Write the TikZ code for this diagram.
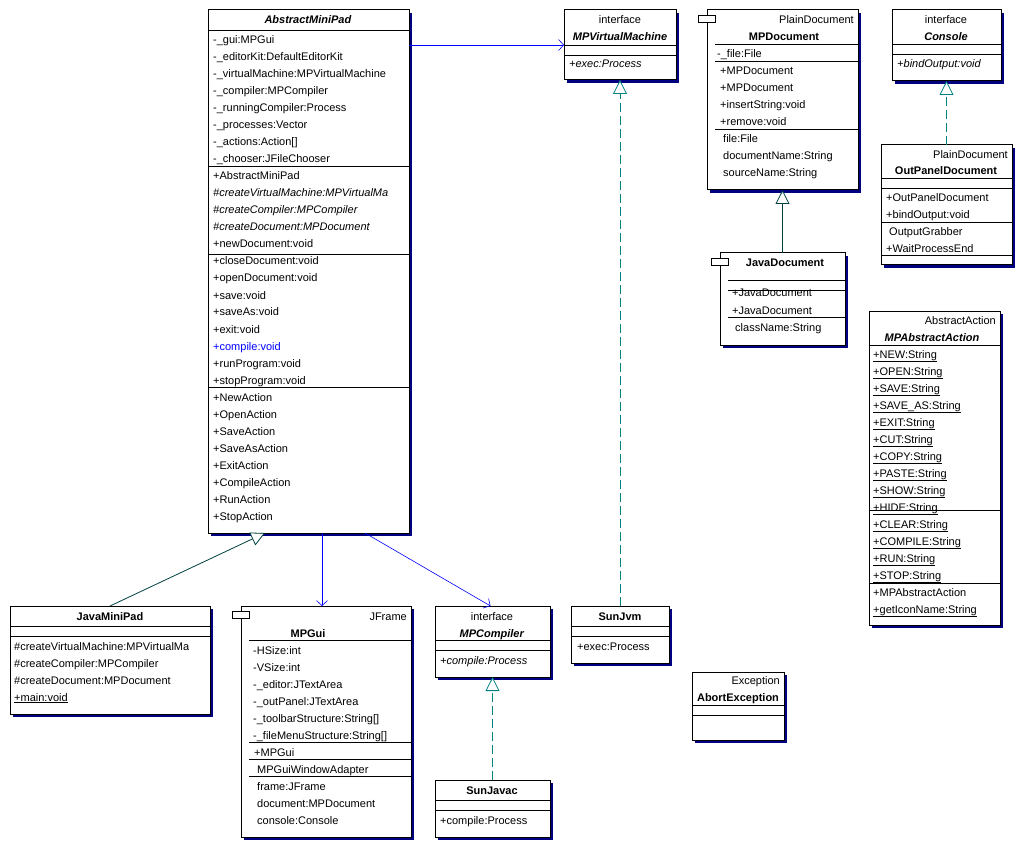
\documentclass[tikz,border=0pt]{standalone}
\usepackage{fontspec}
\setmainfont{Liberation Sans}
\usetikzlibrary{fit,arrows.meta}
\definecolor{shd}{HTML}{000080}
\definecolor{teal2}{HTML}{008080}
\definecolor{gen}{HTML}{004040}
\tikzset{
  txt/.style={font=\fontsize{11}{13}\selectfont,inner sep=0pt,anchor=base west},
  ctr/.style={font=\fontsize{11}{13}\selectfont,inner sep=0pt,anchor=base},
  rgt/.style={font=\fontsize{11}{13}\selectfont,inner sep=0pt,anchor=base east},
  assoc/.style={blue,line width=0.6pt,-{Straight Barb[length=5pt,width=11pt]}},
  real/.style={teal2,line width=0.8pt,dash pattern=on 9pt off 4pt,-{Triangle[open,fill=white,length=14pt,width=14pt]}},
  inh/.style={gen,line width=0.8pt,-{Triangle[open,fill=white,length=14pt,width=14pt]}},
  sep/.style={line width=0.8pt}
}
\newcommand\ubox[5]{%
  \fill[shd] (#2+3,#3+3) rectangle (#4+3,#5+3);
  \node[inner sep=0pt,outer sep=0pt,fit={(#2,#3) (#4,#5)},draw,line width=1pt,fill=white] (#1) {};}
\newcommand\tabicon[2]{\draw[line width=0.8pt,fill=white] (#1,#2) rectangle (#1+17,#2+7);}
\newcommand\hl[3]{\draw[sep] (#1,#3) -- (#2,#3);}
\newcommand\rw[3]{\node[txt] at (#1,#2+4) {#3};}
\newcommand\cw[3]{\node[ctr] at (#1,#2+4) {#3};}
\begin{document}
\begin{tikzpicture}[x=1pt,y=-1pt]
\useasboundingbox (0,0) rectangle (1025,850);

% AbstractMiniPad
\ubox{amp}{208}{10}{409}{533}
\cw{308}{20}{\textbf{\textit{AbstractMiniPad}}}
\hl{208}{409}{30}
\rw{213}{40}{-\_gui:MPGui}
\rw{213}{57}{-\_editorKit:DefaultEditorKit}
\rw{213}{74}{-\_virtualMachine:MPVirtualMachine}
\rw{213}{91}{-\_compiler:MPCompiler}
\rw{213}{108}{-\_runningCompiler:Process}
\rw{213}{125}{-\_processes:Vector}
\rw{213}{142}{-\_actions:Action[]}
\rw{213}{159}{-\_chooser:JFileChooser}
\hl{208}{409}{166}
\rw{213}{176}{+AbstractMiniPad}
\rw{213}{193}{\textit{\#createVirtualMachine:MPVirtualMa}}
\rw{213}{210}{\textit{\#createCompiler:MPCompiler}}
\rw{213}{227}{\textit{\#createDocument:MPDocument}}
\rw{213}{244}{+newDocument:void}
\hl{208}{409}{254}
\rw{213}{261}{+closeDocument:void}
\rw{213}{278}{+openDocument:void}
\rw{213}{295}{+save:void}
\rw{213}{312}{+saveAs:void}
\rw{213}{329}{+exit:void}
\rw{213}{346}{\color{blue}+compile:void}
\rw{213}{363}{+runProgram:void}
\rw{213}{380}{+stopProgram:void}
\hl{208}{409}{387}
\rw{213}{397}{+NewAction}
\rw{213}{414}{+OpenAction}
\rw{213}{431}{+SaveAction}
\rw{213}{448}{+SaveAsAction}
\rw{213}{465}{+ExitAction}
\rw{213}{482}{+CompileAction}
\rw{213}{499}{+RunAction}
\rw{213}{516}{+StopAction}

% MPVirtualMachine
\ubox{mvm}{564}{10}{676}{80}
\cw{620}{20}{interface}
\cw{620}{37}{\textbf{\textit{MPVirtualMachine}}}
\hl{564}{676}{45}
\hl{564}{676}{55}
\rw{569}{64}{\textit{+exec:Process}}

% MPDocument
\ubox{mpd}{707}{10}{858}{190}
\tabicon{698}{15}
\node[rgt] at (854,24) {PlainDocument};
\cw{784}{37}{\textbf{MPDocument}}
\hl{715}{858}{44}
\rw{717}{54}{-\_file:File}
\hl{715}{858}{61}
\rw{720}{71}{+MPDocument}
\rw{720}{88}{+MPDocument}
\rw{720}{105}{+insertString:void}
\rw{720}{122}{+remove:void}
\hl{715}{858}{129}
\rw{723}{139}{file:File}
\rw{723}{156}{documentName:String}
\rw{723}{173}{sourceName:String}

% JavaDocument
\ubox{jdoc}{720}{253}{845}{345}
\tabicon{711}{258}
\cw{785}{263}{\textbf{JavaDocument}}
\hl{728}{845}{280}
\hl{728}{845}{290}
\rw{732}{293}{+JavaDocument}
\rw{732}{310}{+JavaDocument}
\hl{728}{845}{317}
\rw{735}{327}{className:String}

% Console
\ubox{con}{892}{10}{1001}{81}
\cw{946}{20}{interface}
\cw{946}{37}{\textbf{\textit{Console}}}
\hl{892}{1001}{44}
\hl{892}{1001}{54}
\rw{897}{64}{\textit{+bindOutput:void}}

% OutPanelDocument
\ubox{opd}{881}{145}{1012}{265}
\node[rgt] at (1008,159) {PlainDocument};
\cw{946}{171}{\textbf{OutPanelDocument}}
\hl{881}{1012}{178}
\hl{881}{1012}{188}
\rw{886}{198}{+OutPanelDocument}
\rw{886}{215}{+bindOutput:void}
\hl{881}{1012}{222}
\rw{889}{232}{OutputGrabber}
\rw{886}{249}{+WaitProcessEnd}
\hl{881}{1012}{255}

% MPAbstractAction
\ubox{mpa}{869}{311}{1000}{625}
\node[rgt] at (996,324) {AbstractAction};
\cw{932}{337}{\textbf{\textit{MPAbstractAction}}}
\hl{869}{1000}{345}
\rw{873}{354}{\underline{+NEW:String}}
\rw{873}{371}{\underline{+OPEN:String}}
\rw{873}{388}{\underline{+SAVE:String}}
\rw{873}{405}{\underline{+SAVE\_AS:String}}
\rw{873}{422}{\underline{+EXIT:String}}
\rw{873}{439}{\underline{+CUT:String}}
\rw{873}{456}{\underline{+COPY:String}}
\rw{873}{473}{\underline{+PASTE:String}}
\rw{873}{490}{\underline{+SHOW:String}}
\rw{873}{507}{\underline{+HIDE:String}}
\hl{869}{1000}{510}
\rw{873}{524}{\underline{+CLEAR:String}}
\rw{873}{541}{\underline{+COMPILE:String}}
\rw{873}{558}{\underline{+RUN:String}}
\rw{873}{575}{\underline{+STOP:String}}
\hl{869}{1000}{583}
\rw{873}{592}{+MPAbstractAction}
\rw{873}{609}{\underline{+getIconName:String}}

% JavaMiniPad
\ubox{jmp}{10}{606}{210}{714}
\cw{110}{616}{\textbf{JavaMiniPad}}
\hl{10}{210}{626}
\hl{10}{210}{636}
\rw{14}{646}{\#createVirtualMachine:MPVirtualMa}
\rw{14}{663}{\#createCompiler:MPCompiler}
\rw{14}{680}{\#createDocument:MPDocument}
\rw{14}{697}{\underline{+main:void}}

% MPGui
\ubox{gui}{241}{606}{411}{837}
\tabicon{232}{611}
\node[rgt] at (407,620) {JFrame};
\cw{308}{633}{\textbf{MPGui}}
\hl{249}{411}{640}
\rw{253}{650}{-HSize:int}
\rw{253}{667}{-VSize:int}
\rw{253}{684}{-\_editor:JTextArea}
\rw{253}{701}{-\_outPanel:JTextArea}
\rw{253}{718}{-\_toolbarStructure:String[]}
\rw{253}{735}{-\_fileMenuStructure:String[]}
\hl{249}{411}{742}
\rw{254}{752}{+MPGui}
\hl{249}{411}{759}
\rw{257}{769}{MPGuiWindowAdapter}
\hl{249}{411}{776}
\rw{257}{786}{frame:JFrame}
\rw{257}{803}{document:MPDocument}
\rw{257}{820}{console:Console}

% MPCompiler
\ubox{mpc}{435}{606}{550}{677}
\cw{492}{616}{interface}
\cw{492}{633}{\textbf{\textit{MPCompiler}}}
\hl{435}{550}{640}
\hl{435}{550}{650}
\rw{440}{660}{\textit{+compile:Process}}

% SunJavac
\ubox{sjc}{435}{780}{550}{837}
\cw{492}{790}{\textbf{SunJavac}}
\hl{435}{550}{800}
\hl{435}{550}{810}
\rw{440}{820}{+compile:Process}

% SunJvm
\ubox{jvm}{571}{606}{669}{663}
\cw{620}{616}{\textbf{SunJvm}}
\hl{571}{669}{626}
\hl{571}{669}{636}
\rw{577}{646}{+exec:Process}

% AbortException
\ubox{abe}{692}{672}{784}{740}
\node[rgt] at (780,684) {Exception};
\cw{738}{697}{\textbf{AbortException}}
\hl{692}{784}{705}
\hl{692}{784}{715}

% connectors
\draw[assoc] (amp.east |- mvm.west) -- (mvm.west);
\draw[assoc] ([xshift=13.5pt]amp.south) -- ([xshift=-4pt]gui.north);
\draw[assoc] ([xshift=56.5pt]amp.south) -- ([xshift=-2pt]mpc.north);
\draw[inh] (jmp.north) -- ([xshift=-43.5pt]amp.south);
\draw[real] (jvm.north) -- (jvm.north |- mvm.south);
\draw[real] (sjc.north) -- (mpc.south);
\draw[inh] (jdoc.north) -- (mpd.south);
\draw[real] (opd.north) -- (con.south);
\end{tikzpicture}
\end{document}
